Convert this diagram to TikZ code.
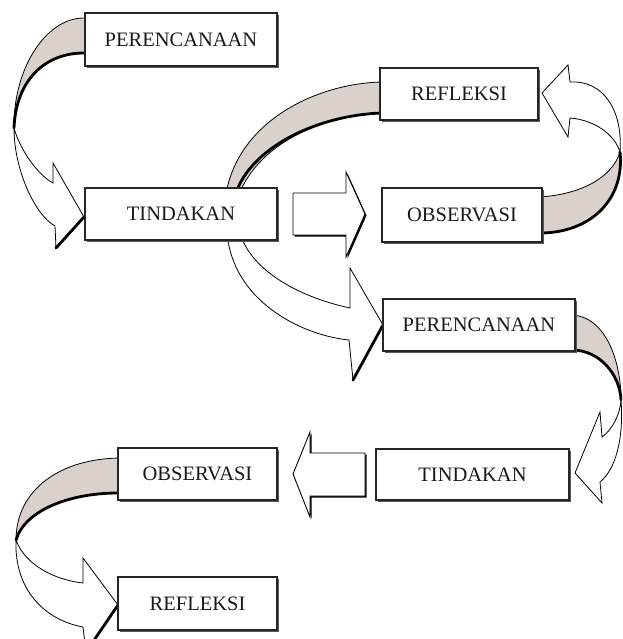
\documentclass[tikz,border=0pt]{standalone}
\usepackage{fontspec}
\setmainfont{Liberation Serif}
\usetikzlibrary{shadows}
\definecolor{rib}{RGB}{218,208,204}
\begin{document}
\begin{tikzpicture}[x=1pt,y=-1pt,
  box/.style={draw=black!85, line width=1.1pt, fill=white, inner sep=0pt,
    font=\fontsize{20.5}{24}\selectfont, text=black!90,
    drop shadow={shadow xshift=2pt,shadow yshift=-2pt,fill=black!65,opacity=1}},
  back/.style={fill=rib, draw=black, line width=0.8pt, line join=round},
  front/.style={fill=white, draw=black, line width=0.8pt, line join=miter},
  thickedge/.style={line width=2.8pt, line cap=round},
  block/.style={fill=white, draw=black, line width=0.9pt,
    drop shadow={shadow xshift=1.5pt,shadow yshift=-1.5pt,fill=black,opacity=1}}
]
\useasboundingbox (0,0) rectangle (622,639);
\clip (0,0) rectangle (622,639);

% Arrow A: PERENCANAAN -> TINDAKAN (left top)
\path[back] (90,18) -- (84,18) .. controls (45,18) and (13,70) .. (14,128)
  .. controls (16,80) and (45,53) .. (84,53) -- (90,53) -- cycle;
\draw[thickedge] (14,128) .. controls (16,80) and (45,53) .. (84,53);
\path[front] (14,128) .. controls (14,170) and (35,215) .. (55,226) -- (56,248)
  -- (84,217) -- (53,163) -- (53,183) .. controls (38,175) and (20,150) .. (14,128) -- cycle;
\draw[thickedge] (56,248) -- (84,217);

% Arrow B: REFLEKSI -> (behind TINDAKAN) -> PERENCANAAN
\path[back] (385,82) .. controls (320,82) and (235,120) .. (225,200) -- (237,200)
  .. controls (255,145) and (320,115) .. (385,113) -- cycle;
\draw[thickedge] (237,190) .. controls (255,145) and (320,115) .. (382,113);
\path[front] (227,232) .. controls (232,300) and (300,335) .. (349,340) -- (353,380)
  -- (383,325) -- (350,268) -- (350,308) .. controls (290,295) and (248,265) .. (240,232) -- cycle;
\draw[thickedge] (353,380) -- (383,325);

% Arrow C: OBSERVASI -> REFLEKSI (right)
\path[back] (538,197) .. controls (580,195) and (612,178) .. (620,152)
  .. controls (625,200) and (590,233) .. (538,233) -- cycle;
\draw[thickedge] (620,152) .. controls (625,200) and (590,233) .. (540,233);
\path[front] (620,152) .. controls (623,110) and (603,80) .. (570,82) -- (568,65)
  -- (542,93) -- (568,137) -- (570,118) .. controls (595,120) and (615,135) .. (620,152) -- cycle;

% Arrow D: PERENCANAAN -> TINDAKAN (right)
\path[back] (570,315) .. controls (605,315) and (621,360) .. (621,400)
  .. controls (620,375) and (600,350) .. (570,350) -- cycle;
\draw[thickedge] (621,400) .. controls (620,375) and (600,350) .. (572,350);
\path[front] (621,400) .. controls (624,440) and (615,470) .. (600,482) -- (602,503)
  -- (575,473) -- (600,412) -- (602,437) .. controls (612,430) and (620,415) .. (621,400) -- cycle;

% Arrow E: OBSERVASI -> REFLEKSI (bottom left)
\path[back] (122,458) .. controls (60,458) and (16,490) .. (16,540)
  .. controls (25,510) and (70,493) .. (122,493) -- cycle;
\draw[thickedge] (16,540) .. controls (25,510) and (70,493) .. (118,493);
\path[front] (16,540) .. controls (14,590) and (45,620) .. (83,627) -- (86,652)
  -- (118,605) -- (83,558) -- (83,583) .. controls (55,580) and (25,565) .. (16,540) -- cycle;
\draw[thickedge] (86,652) -- (118,605);

% Block arrows
\path[block] (293,193) -- (346,193) -- (346,172) -- (365,214) -- (346,257) -- (346,235) -- (293,235) -- cycle;
\path[block] (293,474) -- (310,432) -- (310,453) -- (365,453) -- (365,496) -- (310,496) -- (310,517) -- cycle;

% Boxes
\node[box, minimum width=192, minimum height=53] (p1) at (181,39.5) {PERENCANAAN};
\node[box, minimum width=192, minimum height=52] (t1) at (181,214) {TINDAKAN};
\node[box, minimum width=158, minimum height=52] (r1) at (459,94) {REFLEKSI};
\node[box, minimum width=160, minimum height=54] (o1) at (462,215) {OBSERVASI};
\node[box, minimum width=192, minimum height=52] (p2) at (479,325) {PERENCANAAN};
\node[box, minimum width=193, minimum height=51] (t2) at (472.5,474.5) {TINDAKAN};
\node[box, minimum width=159, minimum height=52] (o2) at (197.5,474) {OBSERVASI};
\node[box, minimum width=159, minimum height=53] (r2) at (197.5,603.5) {REFLEKSI};
\end{tikzpicture}
\end{document}
